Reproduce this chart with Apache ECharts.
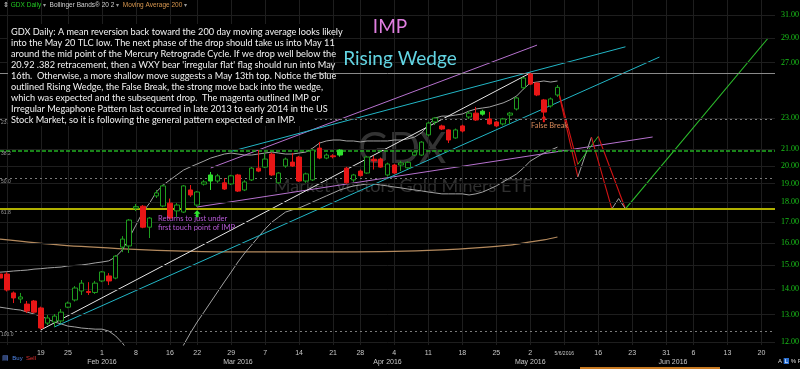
<!DOCTYPE html>
<html><head><meta charset="utf-8">
<script src="https://cdn.jsdelivr.net/npm/echarts@6/dist/echarts.min.js"></script>
<style>html,body{margin:0;padding:0;background:#000}#c{width:800px;height:369px}</style>
</head><body><div id="c"></div>
<script>
// ---------- categories (trading days) ----------
const dates = [
'2016-01-08','2016-01-11','2016-01-12','2016-01-13','2016-01-14','2016-01-15','2016-01-19','2016-01-20','2016-01-21','2016-01-22','2016-01-25','2016-01-26','2016-01-27','2016-01-28','2016-01-29',
'2016-02-01','2016-02-02','2016-02-03','2016-02-04','2016-02-05','2016-02-08','2016-02-09','2016-02-10','2016-02-11','2016-02-12','2016-02-16','2016-02-17','2016-02-18','2016-02-19','2016-02-22','2016-02-23','2016-02-24','2016-02-25','2016-02-26','2016-02-29',
'2016-03-01','2016-03-02','2016-03-03','2016-03-04','2016-03-07','2016-03-08','2016-03-09','2016-03-10','2016-03-11','2016-03-14','2016-03-15','2016-03-16','2016-03-17','2016-03-18','2016-03-21','2016-03-22','2016-03-23','2016-03-24','2016-03-28','2016-03-29','2016-03-30','2016-03-31',
'2016-04-01','2016-04-04','2016-04-05','2016-04-06','2016-04-07','2016-04-08','2016-04-11','2016-04-12','2016-04-13','2016-04-14','2016-04-15','2016-04-18','2016-04-19','2016-04-20','2016-04-21','2016-04-22','2016-04-25','2016-04-26','2016-04-27','2016-04-28','2016-04-29',
'2016-05-02','2016-05-03','2016-05-04','2016-05-05','2016-05-06','2016-05-09','2016-05-10','2016-05-11','2016-05-12','2016-05-13','2016-05-16','2016-05-17','2016-05-18','2016-05-19','2016-05-20','2016-05-23','2016-05-24','2016-05-25','2016-05-26','2016-05-27','2016-05-31',
'2016-06-01','2016-06-02','2016-06-03','2016-06-06','2016-06-07','2016-06-08','2016-06-09','2016-06-10','2016-06-13','2016-06-14','2016-06-15','2016-06-16','2016-06-17','2016-06-20','2016-06-21','2016-06-22'
];
// ---------- GDX daily candles ----------
const opens = [14.62,14.62,13.84,13.60,13.40,13.52,13.25,12.68,12.72,12.76,
13.28,13.56,13.92,13.90,13.86,14.33,14.54,14.45,15.81,15.86,
17.70,17.80,16.75,18.34,17.81,17.96,17.56,17.50,18.66,17.86,
18.98,19.49,19.15,19.05,18.99,19.49,18.66,19.21,19.88,19.94,
20.71,19.05,20.00,20.23,20.53,19.15,19.21,21.07,20.47,20.60,
20.95,19.88,19.21,19.71,19.60,20.40,20.41,19.49,20.06,20.06,
19.90,20.65,20.65,21.89,22.73,22.47,22.21,21.70,22.47,23.06,
23.32,23.45,22.93,22.73,22.60,23.19,23.60,25.10,26.12,25.45,
24.23,23.81,24.58];
const closes = [14.45,13.96,13.64,13.68,13.13,13.09,12.50,12.87,12.94,13.09,
13.44,14.04,14.24,13.86,14.24,14.71,14.33,15.40,16.18,17.10,
17.78,16.75,17.20,18.50,18.88,17.20,17.86,18.88,18.39,18.55,
19.10,19.15,19.44,18.71,19.44,18.60,19.10,19.88,19.71,20.41,
19.49,19.60,20.41,20.00,19.15,19.55,20.95,20.47,20.65,20.55,
20.65,19.05,19.49,19.45,20.53,20.30,19.94,20.12,19.60,20.18,
20.22,20.83,21.44,22.66,22.99,22.27,21.57,22.21,22.14,23.32,
22.86,23.25,22.60,22.47,22.93,23.32,24.37,25.82,25.37,24.58,
23.39,24.30,25.13];
const lows = [14.30,13.90,13.44,13.44,13.06,13.05,12.45,12.61,12.54,12.68,
13.24,13.50,13.76,13.76,13.80,14.28,14.16,14.40,15.58,15.54,
17.55,16.70,16.23,18.23,17.75,17.15,17.25,17.45,18.28,17.76,
18.90,18.66,19.05,18.66,18.93,18.55,18.60,19.15,19.65,19.88,
19.44,19.00,19.90,19.95,19.10,19.05,19.15,20.40,20.40,20.45,
20.55,19.00,19.10,19.40,19.55,19.80,19.90,19.40,19.55,19.71,
19.85,20.60,20.60,21.80,22.53,22.20,21.38,21.65,22.05,22.93,
22.80,23.15,22.55,22.40,22.50,22.60,23.50,25.00,25.30,24.50,
22.93,23.70,24.45];
const highs = [14.80,14.70,13.90,13.84,13.52,13.56,13.30,12.98,13.02,13.21,
13.50,14.12,14.37,14.28,14.33,14.75,14.66,15.45,16.32,17.15,
17.92,17.86,17.25,18.66,18.95,18.20,17.96,18.93,18.93,18.60,
19.20,19.66,19.55,19.32,19.50,19.55,19.20,19.95,20.95,20.77,
20.80,19.65,20.50,20.77,20.60,19.62,21.00,21.45,20.75,20.70,
21.00,19.95,19.55,19.80,20.60,20.60,20.50,20.20,20.12,20.30,
20.28,20.90,21.50,22.75,23.05,22.55,22.25,22.30,22.55,23.45,
23.74,23.55,23.40,22.80,23.00,23.40,24.45,25.90,26.20,25.50,
24.30,24.40,25.30];
// ---------- Bollinger Bands (20,2) ----------
const bbUpper = [14.70,14.72,14.75,14.77,14.79,14.83,14.85,14.88,14.90,14.92,
14.97,14.99,15.01,15.05,15.10,15.14,15.19,15.36,15.68,16.23,
16.85,17.50,17.96,18.55,18.93,19.21,19.49,19.77,19.95,20.12,
20.29,20.47,20.59,20.71,20.77,20.71,20.65,20.65,20.71,20.77,
20.83,20.77,20.71,20.71,20.77,20.83,21.07,21.38,21.51,21.57,
21.57,21.51,21.51,21.45,21.51,21.51,21.51,21.51,21.57,21.57,
21.64,21.76,22.02,22.53,22.99,23.12,23.12,23.19,23.26,23.46,
23.60,23.67,23.74,23.88,24.02,24.23,24.51,25.01,25.45,25.52,
25.60,25.52,25.60];
const bbLower = [13.28,13.24,13.20,13.17,13.09,13.02,12.94,12.83,12.72,12.65,
12.57,12.54,12.50,12.48,12.46,12.46,12.39,12.22,11.97,11.66,
11.33,11.01,10.76,10.60,10.57,10.76,11.33,11.90,12.32,12.72,
13.09,13.48,13.88,14.29,14.70,15.14,15.54,15.90,16.28,16.66,
17.00,17.25,17.50,17.61,17.71,17.86,18.02,18.18,18.34,18.50,
18.66,18.77,18.88,18.93,18.99,18.99,18.93,18.88,18.82,18.77,
18.71,18.66,18.61,18.55,18.50,18.45,18.45,18.45,18.45,18.39,
18.45,18.55,18.71,18.88,19.10,19.32,19.55,19.89,20.29,20.53,
20.77,20.95,21.13];
// ---------- Moving Average 200 (read points) ----------
const ma200 = [['2016-01-08',16.18],['2016-01-22',15.90],['2016-02-05',15.72],['2016-02-18',15.63],['2016-03-03',15.59],
['2016-03-18',15.59],['2016-04-04',15.61],['2016-04-13',15.68],['2016-04-20',15.77],['2016-04-27',15.90],
['2016-05-02',16.05],['2016-05-04',16.14],['2016-05-06',16.28]];
// ---------- drawn trend lines ----------
const whiteTrend = [['2016-01-19',12.43],['2016-05-02',26.20]];
const wedgeLower = [['2016-01-21',12.54],['2016-05-27',27.44]];
const wedgeUpper = [['2016-02-29',20.87],['2016-05-20',28.27]];
const impUpper   = [['2016-02-24',19.89],['2016-05-03',28.41]];
const impLower   = [['2016-02-22',17.76],['2016-05-26',21.76]];
// ---------- projected path ----------
const projRedA  = [['2016-05-06',25.13],['2016-05-11',19.38]];
const projRedB  = [['2016-05-06',25.13],['2016-05-11',20.10]];
const projGrayA = [['2016-05-11',19.38],['2016-05-13',21.75]];
const projGreenA= [['2016-05-11',20.10],['2016-05-16',21.80]];
const projRedC  = [['2016-05-13',21.75],['2016-05-18',17.66]];
const projRedD  = [['2016-05-16',21.80],['2016-05-20',17.66]];
const projGrayB = [['2016-05-18',17.66],['2016-05-19',18.20],['2016-05-20',17.66]];
const projGreenB= [['2016-05-20',17.66],['2016-06-21',29.00]];
// ---------- levels and ticks ----------
const priceTicks = [12,13,14,15,16,17,18,19,20,21,23,27,29,31];
const fibPct   = [0, 23.6, 38.2, 50, 61.8, 100];
const fibPrice = [26.20, 22.94, 20.92, 19.30, 17.66, 12.39];
const lastClose = 25.13;
const asOfDate = '2016-05-09', asOfLabel = '5/6/2016';
const buyArrow = ['2016-02-22', 17.42];
const breakArrow = ['2016-05-04', 22.95];

const MONTHS = ['Jan','Feb','Mar','Apr','May','Jun'];
const dOf = s => new Date(s + 'T12:00:00Z');
function isWeekStart(i){ return i > 0 && dOf(dates[i]).getUTCDay() <= dOf(dates[i-1]).getUTCDay(); }
function isMonthStart(i){ return i > 0 && dates[i].slice(5,7) !== dates[i-1].slice(5,7); }

const candleData = opens.map((o, i) => {
  const c = closes[i], v = [o, c, lows[i], highs[i]];
  const prev = i > 0 ? closes[i-1] : null;
  if (prev !== null && c < o && c > prev) {
    const g = '#2fe02f';
    return {value: v, itemStyle: {color: g, color0: g, borderColor: g, borderColor0: g}};
  }
  return v;
});

const GREEN_TXT = '#19c419';
const markData = [];
priceTicks.forEach(t => markData.push({yAxis: t, lineStyle: {color: '#1e1e1e', width: 1, type: 'solid'},
  label: {show: true, position: 'end', distance: 6, formatter: t.toFixed(2), color: GREEN_TXT, fontSize: 8, fontFamily: 'Liberation Serif'}}));
const fibStyles = [
  {color: '#8a8a8a', width: 1, type: 'solid'},
  {color: '#7a7a7a', width: 1, type: [2, 3]},
  {color: '#22b022', width: 1.6, type: [4, 2]},
  {color: '#7a7a7a', width: 1, type: [2, 3]},
  {color: '#b0b000', width: 2, type: 'solid'},
  {color: '#7a7a7a', width: 1, type: [2, 3]}
];
fibPrice.forEach((p, k) => markData.push({yAxis: p, lineStyle: fibStyles[k],
  label: {show: k > 0, position: 'insideStartBottom', distance: 1, formatter: fibPct[k].toFixed(1), color: '#9a9a9a', fontSize: 5}}));
markData.push({yAxis: fibPrice[2], lineStyle: {opacity: 0}, label: {show: true, position: 'insideEndTop', distance: 1, formatter: fibPrice[2].toFixed(2), color: '#22b022', fontSize: 5}});
markData.push({yAxis: fibPrice[4], lineStyle: {opacity: 0}, label: {show: true, position: 'insideEndTop', distance: 1, formatter: fibPrice[4].toFixed(2), color: '#b0b000', fontSize: 5}});
markData.push({yAxis: lastClose, lineStyle: {opacity: 0}, label: {show: true, position: 'end', distance: 5, formatter: lastClose.toFixed(2),
  color: '#f0f0f0', fontSize: 8, fontFamily: 'Liberation Serif', borderColor: '#9a9a9a', borderWidth: 1, padding: [1, 1, 0, 1], backgroundColor: '#000'}});

function lineSeries(data, color, width, z, extra){
  return Object.assign({type: 'line', data: data, symbol: 'none', silent: true, z: z || 3,
    lineStyle: {color: color, width: width || 1}}, extra || {});
}

const option = {
  backgroundColor: '#000',
  animation: false,
  grid: {left: 0, right: 25, top: 0, bottom: 24, containLabel: false, outerBoundsMode: 'none'},
  xAxis: {
    type: 'category', data: dates, boundaryGap: false,
    axisLine: {show: false}, axisTick: {show: false},
    splitLine: {show: true, interval: (i) => isWeekStart(i), lineStyle: {color: '#1e1e1e', width: 1}},
    axisLabel: {
      interval: 0, margin: 4, fontSize: 7, color: '#c8c8c8', lineHeight: 9, fontFamily: 'Liberation Sans',
      formatter: (value, index) => {
        const w = isWeekStart(index) && index > 2, m = isMonthStart(index);
        if (!w && !m) return '';
        let top = w ? String(+value.slice(8, 10)) : ' ';
        if (value === asOfDate) top = '{s|' + asOfLabel + '}';
        return m ? top + '\n{m|' + MONTHS[+value.slice(5, 7) - 1] + ' 2016}' : top;
      },
      rich: {m: {fontSize: 7, color: '#c8c8c8', lineHeight: 9, fontFamily: 'Liberation Sans'},
             s: {fontSize: 5, color: '#c8c8c8', lineHeight: 9, fontFamily: 'Liberation Sans'}}
    }
  },
  yAxis: {type: 'log', logBase: 10, min: 11.90, max: 32.38, scale: true,
    axisLine: {show: false}, axisTick: {show: false}, axisLabel: {show: false}, splitLine: {show: false}},
  series: [
    lineSeries(ma200, '#b48a5e', 1.2, 2, {smooth: 0.3, clip: false,
      markLine: {symbol: 'none', silent: true, animation: false, data: markData}}),
    lineSeries(bbUpper, '#a3a3a3', 1, 3),
    lineSeries(bbLower, '#a3a3a3', 1, 3),
    lineSeries(impUpper, '#b772cf', 1, 3),
    lineSeries(impLower, '#b772cf', 1, 3),
    lineSeries(wedgeUpper, '#22b6c6', 1, 3),
    lineSeries(wedgeLower, '#22b6c6', 1, 3),
    lineSeries(whiteTrend, '#e6e6e6', 1, 3),
    lineSeries(projRedA, '#d41414', 1.1, 4),
    lineSeries(projRedB, '#d41414', 1.1, 4),
    lineSeries(projGrayA, '#a0a0a0', 1, 4),
    lineSeries(projGreenA, '#2cbf2c', 1, 4),
    lineSeries(projRedC, '#d41414', 1.1, 4),
    lineSeries(projRedD, '#d41414', 1.1, 4),
    lineSeries(projGrayB, '#a0a0a0', 1, 4),
    lineSeries(projGreenB, '#2cbf2c', 1.1, 4),
    {
      type: 'candlestick', data: candleData, barWidth: 5, z: 5, silent: true,
      itemStyle: {color: '#000', color0: '#e81616', borderColor: '#1f9d1f', borderColor0: '#e81616', borderWidth: 1},
      markPoint: {silent: true, animation: false, label: {show: false}, data: [
        {coord: buyArrow, symbol: 'path://M5,0 L10,5 L7,5 L7,10 L3,10 L3,5 L0,5 Z', symbolSize: [7, 7], itemStyle: {color: '#2ee62e'}},
        {coord: breakArrow, symbol: 'path://M5,0 L10,5 L7,5 L7,10 L3,10 L3,5 L0,5 Z', symbolSize: [5, 7], itemStyle: {color: '#e81616'}}
      ]}
    }
  ],
  graphic: [
    {type: 'text', x: 402, y: 149, z: 0, silent: true, style: {text: 'GDX', fill: '#333', font: '42px Lato', align: 'center', verticalAlign: 'middle'}},
    {type: 'text', x: 403, y: 186, z: 0, silent: true, style: {text: 'Market Vectors Gold Miners ETF', fill: '#303030', font: '18px Lato', align: 'center', verticalAlign: 'middle'}},
    {type: 'rect', z: 50, silent: true, shape: {x: 8, y: 24, width: 306, height: 102}, style: {fill: '#000'}},
    {type: 'text', x: 11, y: 26, z: 51, silent: true, style: {
      text: "GDX Daily: A mean reversion back toward the 200 day moving average looks likely\ninto the May 20 TLC low. The next phase of the drop should take us into May 11\naround the mid point of the Mercury Retrograde Cycle. If we drop well below the\n20.92 .382 retracement, then a WXY bear 'irregular flat' flag should run into May\n16th.  Otherwise, a more shallow move suggests a May 13th top. Notice the blue\noutlined Rising Wedge, the False Break, the strong move back into the wedge,\nwhich was expected and the subsequent drop.  The magenta outlined IMP or\nIrregular Megaphone Pattern last occurred in late 2013 to early 2014 in the US\nStock Market, so it is following the general pattern expected of an IMP.",
      fill: '#f2f2f2', font: '9.2px Lato', lineHeight: 11.1}},
    {type: 'text', x: 390, y: 27, z: 51, silent: true, style: {text: 'IMP', fill: '#e07ee0', font: '19px Lato', align: 'center', verticalAlign: 'middle'}},
    {type: 'text', x: 400, y: 59, z: 51, silent: true, style: {text: 'Rising Wedge', fill: '#62d4e2', font: '19px Lato', align: 'center', verticalAlign: 'middle'}},
    {type: 'text', x: 158, y: 223, z: 51, silent: true, style: {text: 'Returns to just under\nfirst touch point of IMP', fill: '#b85ad8', font: '7.5px Lato', lineHeight: 9, verticalAlign: 'middle'}},
    {type: 'text', x: 531, y: 126, z: 51, silent: true, style: {text: 'False Break', fill: '#d88a5a', font: '7.5px Lato', verticalAlign: 'middle'}},
    {type: 'text', x: 3, y: 5, z: 51, silent: true, style: {
      text: '{w|\u21D5} {g|GDX Daily} {a|\u25BE}  {b|Bollinger Bands\u00AE 20 2} {a|\u25BE}  {o|Moving Average 200} {a|\u25BE}',
      verticalAlign: 'middle', font: '6.5px Liberation Sans',
      rich: {w: {fill: '#ddd', fontSize: 7}, g: {fill: '#22c822', fontSize: 6.5}, a: {fill: '#999', fontSize: 6},
             b: {fill: '#d0d0d0', fontSize: 6.5}, o: {fill: '#d8974f', fontSize: 6.5}}}},
    {type: 'text', x: 2, y: 358, z: 51, silent: true, style: {
      text: '{i|\u25A4}  {b|Buy}  {s|Sell}', verticalAlign: 'middle', font: '6px Liberation Sans',
      rich: {i: {fill: '#5a7fd8', fontSize: 7}, b: {fill: '#4f86e8', fontSize: 6}, s: {fill: '#e03030', fontSize: 6}}}},
    {type: 'text', x: 778, y: 361, z: 51, silent: true, style: {
      text: '{a|A} {l|L} {a|%} {a|F}', verticalAlign: 'middle', font: '6px Liberation Sans',
      rich: {a: {fill: '#ddd', fontSize: 6}, l: {fill: '#fff', backgroundColor: '#2a6fd0', fontSize: 6, padding: [0, 1]}}}},
    {type: 'rect', z: 51, silent: true, shape: {x: 580, y: 367, width: 140, height: 2}, style: {fill: '#c87a22'}}
  ]
};
const chart = echarts.init(document.getElementById('c'), null, {renderer: 'canvas', width: 800, height: 369});
chart.setOption(option);
</script></body></html>
